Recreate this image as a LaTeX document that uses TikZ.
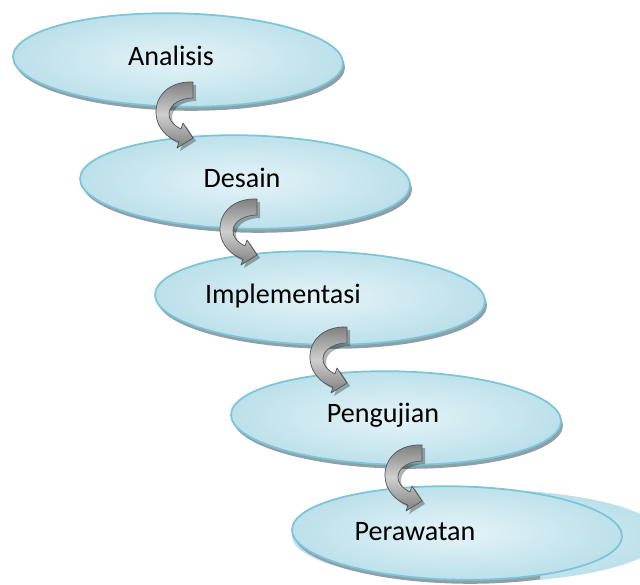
\documentclass[tikz,border=0pt]{standalone}
\usepackage{fontspec}
\setmainfont{Carlito}
\usetikzlibrary{shapes.geometric}

\definecolor{rim}{HTML}{7CC5D8}
\definecolor{fillin}{HTML}{E4F3F8}
\definecolor{fillout}{HTML}{BCE0EA}
\definecolor{drop}{HTML}{8E9FA5}
\definecolor{arrowedge}{HTML}{555555}
\definecolor{arrowdark}{HTML}{7E7E7E}
\definecolor{arrowlight}{HTML}{CFCFCF}

\tikzset{
  stage/.style={ellipse, draw=rim, line width=1.5pt, inner color=fillin,
    outer color=fillout, minimum width=9.9cm, minimum height=2.8cm,
    inner sep=0pt, rotate=-1.2},
  stageshadow/.style={ellipse, fill=drop, minimum width=9.9cm,
    minimum height=2.8cm, inner sep=0pt, rotate=-1.2},
  steptext/.style={anchor=base, inner sep=0pt, text=black,
    font=\fontsize{24}{29}\selectfont},
  curl/.pic={
    \path[preaction={fill=black, fill opacity=0.3,
        transform canvas={shift={(3,3)}}},
      top color=arrowdark, bottom color=arrowdark, middle color=arrowlight,
      draw=arrowedge, line width=0.6pt, line join=round]
      (0,0) .. controls (-24,-1) and (-38,14) .. (-37,32)
      .. controls (-36,46) and (-26,56) .. (-14,60)
      -- (-16,66) -- (0,56) -- (-10,41) -- (-12,47)
      .. controls (-20,43) and (-25,37) .. (-24,31)
      .. controls (-23,22) and (-12,16) .. (0,16) -- cycle;
  }
}

\begin{document}
\begin{tikzpicture}[x=0.03cm, y=-0.03cm]
  \useasboundingbox (0,0) rectangle (640,584);
  \clip (0,0) rectangle (640,584);

  % wide backing shape behind the last stage
  \node[ellipse, inner color=fillin, outer color=fillout, inner sep=0pt,
        minimum width=11.1cm, minimum height=2.8cm] (e5w) at (477,536) {};

  % drop shadows under the stages
  \node[stageshadow] (s1) at (180,64) {};
  \node[stageshadow] (s2) at (247,186) {};
  \node[stageshadow] (s3) at (322,302) {};
  \node[stageshadow] (s4) at (398,422) {};
  \begin{scope}
    \clip (0,470) rectangle (540,584);
    \node[stageshadow] (s5) at (459,537) {};
  \end{scope}

  % the five stages
  \node[stage] (e1) at (178,60) {};
  \node[stage] (e2) at (245,182) {};
  \node[stage] (e3) at (320,298) {};
  \node[stage] (e4) at (396,418) {};
  \node[stage] (e5) at (457,533) {};

  % stage names
  \node[steptext] (t1) at (171,65) {Analisis};
  \node[steptext] (t2) at (242,187) {Desain};
  \node[steptext] (t3) at (283,303) {Implementasi};
  \node[steptext] (t4) at (383,422) {Pengujian};
  \node[steptext] (t5) at (415,540) {Perawatan};

  % curved arrows from one stage to the next
  \pic (a1) at (193,82) {curl};
  \pic (a2) at (257,199) {curl};
  \pic (a3) at (347,327) {curl};
  \pic (a4) at (422,445) {curl};
\end{tikzpicture}
\end{document}
